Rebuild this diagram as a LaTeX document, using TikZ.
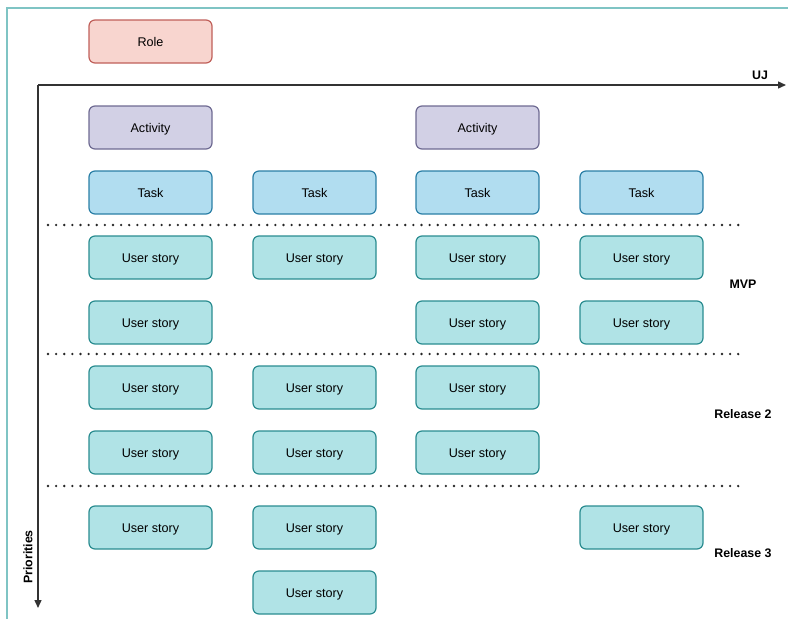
\documentclass[tikz,border=0pt]{standalone}
\usepackage{fontspec}
\setmainfont{Liberation Sans}
\usetikzlibrary{arrows.meta}
\definecolor{roleF}{HTML}{F8D5CF}\definecolor{roleD}{HTML}{C0605A}
\definecolor{actF}{HTML}{D2D0E5}\definecolor{actD}{HTML}{6E6A92}
\definecolor{taskF}{HTML}{B1DDF0}\definecolor{taskD}{HTML}{2A7FA6}
\definecolor{usF}{HTML}{B0E3E6}\definecolor{usD}{HTML}{2A8C90}
\definecolor{frameC}{HTML}{7FC4C4}
\definecolor{axisC}{HTML}{333333}
\tikzset{
  card/.style={rounded corners=6pt, line width=1.2pt, minimum width=123pt, minimum height=43pt, inner sep=0pt, text height=9pt, text depth=0pt, font=\fontsize{12.6}{14}\selectfont},
  rolebox/.style={card, fill=roleF, draw=roleD},
  actbox/.style={card, fill=actF, draw=actD},
  taskbox/.style={card, fill=taskF, draw=taskD},
  usbox/.style={card, fill=usF, draw=usD},
  sepdot/.style={fill=black!85, inner sep=0pt, minimum size=2.6pt, circle},
  axis/.style={line width=1.4pt, draw=axisC, -{Triangle[length=8pt,width=7pt]}},
  lbl/.style={font=\bfseries\fontsize{12.4}{14}\selectfont, inner sep=0pt}
}
\begin{document}
\begin{tikzpicture}[x=1pt,y=-1pt]
\useasboundingbox (0,0) rectangle (788,619);
\draw[frameC, line width=1.4pt] (7,619) -- (7,8) -- (788,8);
% axes
\coordinate (O) at (38,85);
\coordinate (Xend) at (786,85);
\coordinate (Yend) at (38,608);
\draw[axis] (O) -- (Xend);
\draw[axis] (O) -- (Yend);
\node[lbl] (uj) at (760,75) {UJ};
\node[lbl, rotate=90] (prio) at (28,557) {Priorities};
% role
\node[rolebox] (role) at (150.5,41.5) {Role};
% activities
\node[actbox] (a1) at (150.5,127.5) {Activity};
\node[actbox] (a3) at (477.5,127.5) {Activity};
% tasks
\node[taskbox] (t1) at (150.5,192.5) {Task};
\node[taskbox] (t2) at (314.5,192.5) {Task};
\node[taskbox] (t3) at (477.5,192.5) {Task};
\node[taskbox] (t4) at (641.5,192.5) {Task};
% separators (dotted lines)
\foreach \yy in {225,354,486}{
  \foreach \i in {0,...,85}{
    \path (48+8.12*\i,\yy) node[sepdot] {};
  }
}
% MVP
\node[usbox] (u11) at (150.5,257.5) {User story};
\node[usbox] (u12) at (314.5,257.5) {User story};
\node[usbox] (u13) at (477.5,257.5) {User story};
\node[usbox] (u14) at (641.5,257.5) {User story};
\node[usbox] (u21) at (150.5,322.5) {User story};
\node[usbox] (u23) at (477.5,322.5) {User story};
\node[usbox] (u24) at (641.5,322.5) {User story};
\node[lbl] (mvp) at (743,284) {MVP};
% Release 2
\node[usbox] (u31) at (150.5,387.5) {User story};
\node[usbox] (u32) at (314.5,387.5) {User story};
\node[usbox] (u33) at (477.5,387.5) {User story};
\node[usbox] (u41) at (150.5,452.5) {User story};
\node[usbox] (u42) at (314.5,452.5) {User story};
\node[usbox] (u43) at (477.5,452.5) {User story};
\node[lbl] (r2) at (743,414) {Release 2};
% Release 3
\node[usbox] (u51) at (150.5,527.5) {User story};
\node[usbox] (u52) at (314.5,527.5) {User story};
\node[usbox] (u54) at (641.5,527.5) {User story};
\node[usbox] (u62) at (314.5,592.5) {User story};
\node[lbl] (r3) at (743,553) {Release 3};
\end{tikzpicture}
\end{document}
